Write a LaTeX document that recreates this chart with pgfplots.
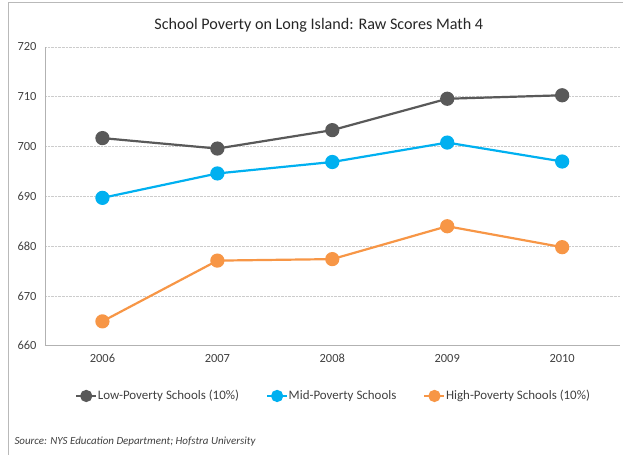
\documentclass[border=0pt]{standalone}
\usepackage{pgfplots}
\pgfplotsset{compat=1.18}
\usepackage{fontspec}
\setmainfont{Carlito}
\definecolor{lowc}{HTML}{595959}
\definecolor{midc}{HTML}{00B0F0}
\definecolor{highc}{HTML}{F79646}
\definecolor{txt}{HTML}{404040}
\begin{document}
\begin{tikzpicture}[x=1bp,y=1bp]
\path (0,0) rectangle (623,455);
\draw[gray!55, line width=0.8bp] (8,0) -- (8,453) -- (623,453);
\node[font=\fontsize{16.2}{19}\selectfont, text=black!85] at (319,430) {School Poverty on Long Island: Raw Scores Math 4};
\node[anchor=west, font=\fontsize{11}{13}\selectfont\itshape, text=txt] at (11,13.5) {Source: NYS Education Department; Hofstra University};
\begin{axis}[at={(45bp,109bp)}, anchor=south west, scale only axis,
  width=575bp, height=299bp,
  xmin=2005.5, xmax=2010.5, ymin=660, ymax=720,
  ytick={660,670,...,720}, xtick={2006,2007,2008,2009,2010},
  /pgf/number format/1000 sep={},
  /pgf/number format/assume math mode=true,
  axis lines=left, axis line style={-, gray!60, line width=0.8bp},
  major tick length=0pt,
  ymajorgrids, grid style={gray!40, densely dotted, line width=0.8bp},
  tick label style={font=\fontsize{12.5}{14}\selectfont, text=txt},
  yticklabel style={xshift=-5bp},
  xticklabel style={yshift=-5bp},
  every axis plot/.append style={line width=2.2bp, mark=*, mark size=6bp},
  legend style={at={(rel axis cs:0.047,-0.168)}, anchor=west, draw=none, fill=none,
    legend columns=3, font=\fontsize{13}{15}\selectfont, text=txt,
    nodes={inner xsep=0.5bp},
    /tikz/every even column/.append style={column sep=26.5bp}},
  legend image code/.code={\draw[#1,mark=none,line width=2.2bp] (-2bp,0bp)--(18bp,0bp); \fill[#1] (8bp,0bp) circle (5bp);},
]
\addplot[color=lowc] coordinates {(2006,701.7) (2007,699.6) (2008,703.3) (2009,709.6) (2010,710.3)};
\addlegendentry{Low-Poverty Schools (10\%)}
\addplot[color=midc] coordinates {(2006,689.7) (2007,694.6) (2008,696.9) (2009,700.8) (2010,697.0)};
\addlegendentry{Mid-Poverty Schools}
\addplot[color=highc] coordinates {(2006,664.9) (2007,677.1) (2008,677.4) (2009,684.0) (2010,679.8)};
\addlegendentry{High-Poverty Schools (10\%)}
\end{axis}
\end{tikzpicture}
\end{document}
